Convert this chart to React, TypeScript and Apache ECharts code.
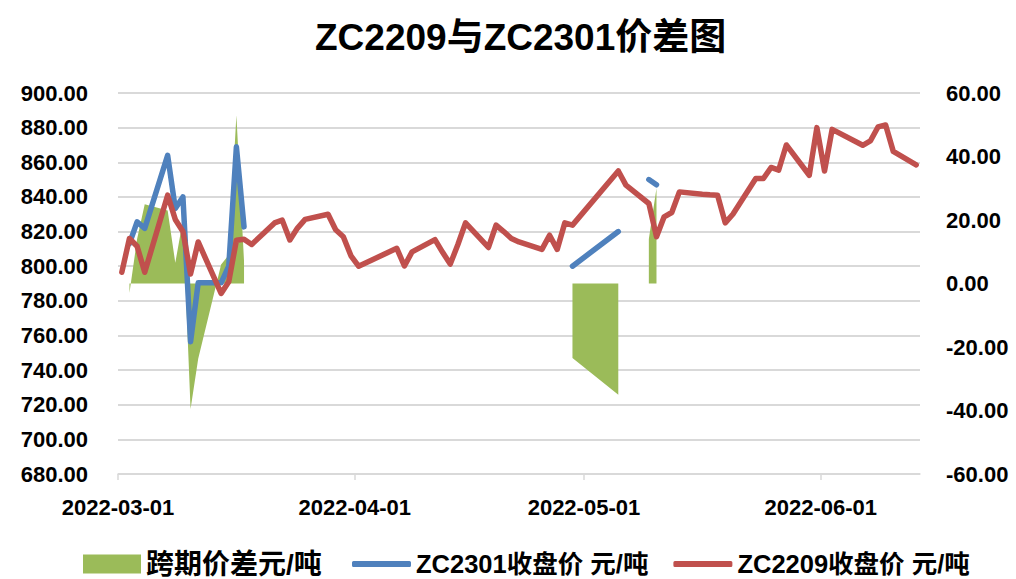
import React, { useEffect, useRef } from "react";
import * as echarts from "echarts";

const dates = [
  "2022-03-01", "2022-03-02", "2022-03-03", "2022-03-04", "2022-03-07", "2022-03-08", "2022-03-09", "2022-03-10", "2022-03-11",
  "2022-03-14", "2022-03-15", "2022-03-16", "2022-03-17", "2022-03-18", "2022-03-21", "2022-03-22", "2022-03-23", "2022-03-24",
  "2022-03-25", "2022-03-28", "2022-03-29", "2022-03-30", "2022-03-31", "2022-04-01", "2022-04-06", "2022-04-07", "2022-04-08",
  "2022-04-11", "2022-04-12", "2022-04-13", "2022-04-14", "2022-04-15", "2022-04-18", "2022-04-19", "2022-04-20", "2022-04-21",
  "2022-04-22", "2022-04-25", "2022-04-26", "2022-04-27", "2022-04-28", "2022-04-29", "2022-05-05", "2022-05-06", "2022-05-09",
  "2022-05-10", "2022-05-11", "2022-05-12", "2022-05-13", "2022-05-16", "2022-05-17", "2022-05-18", "2022-05-19", "2022-05-20",
  "2022-05-23", "2022-05-24", "2022-05-25", "2022-05-26", "2022-05-27", "2022-05-30", "2022-05-31", "2022-06-01", "2022-06-02",
  "2022-06-06", "2022-06-07", "2022-06-08", "2022-06-09", "2022-06-10", "2022-06-13",
];

// ZC2209 close
const zc2209 = [
  796.5, 816, 811.5, 796.5, 841, 827, 820, 795.5, 814,
  784.3, 791, 815, 815.5, 812.5, 825, 826.6, 815.1, 822,
  827, 830, 821, 817, 806, 800, 810.3, 800.1, 808.3,
  815.3, 808, 801.2, 812.5, 825, 810.8, 823.7, 820, 816,
  814, 809.7, 817.9, 809.7, 825, 823.7, 855, 846.8, 836.2,
  817, 828.5, 831, 842.9, 841.5, 841.2, 841, 825, 830,
  850.6, 850.6, 857, 855.5, 870, 852.5, 880, 855, 879,
  869.8, 872.3, 880.4, 881.5, 866.3, 858.5,
];

// ZC2301 close (null = no data)
const zc2301 = [
  null, 813, 825.6, 821.8, 864, 833.3, 840, 756.4, 790.4,
  790.4, 800, 868.9, 822.7, null, null, null, null, null,
  null, null, null, null, null, null, null, null, null,
  null, null, null, null, null, null, null, null, null,
  null, null, null, null, null, 800, 820, null, 850,
  847, null, null, null, null, null, null, null, null,
  null, null, null, null, null, null, null, null, null,
  null, null, null, null, null, null,
];

// 跨期价差 (right axis)
const spread = [
  null, -3, 14, 25, 23, 6.5, 20, -39.5, -23.7,
  6, 9, 53, 7, null, null, null, null, null,
  null, null, null, null, null, null, null, null, null,
  null, null, null, null, null, null, null, null, null,
  null, null, null, null, null, -23.5, -35, null, 14,
  30, null, null, null, null, null, null, null, null,
  null, null, null, null, null, null, null, null, null,
  null, null, null, null, null, null,
];

const axisStart = "2022-03-01";
const axisEnd = "2022-06-14";
const monthLabels = ["2022-03-01", "2022-04-01", "2022-05-01", "2022-06-01"];

const DAY = 86400000;
const dayIndex = (s: string) => (Date.parse(s + "T00:00:00Z") - Date.parse(axisStart + "T00:00:00Z")) / DAY;

const FONT = "'Liberation Sans', 'Noto Sans CJK SC', sans-serif";

export default function App() {
  const ref = useRef<HTMLDivElement>(null);
  useEffect(() => {
    if (!ref.current) return;
    const chart = echarts.init(ref.current, null, { renderer: "svg" });
    const xs = dates.map((d) => dayIndex(d) + 0.5);
    const toPts = (arr: (number | null)[]) => arr.map((v, i) => [xs[i], v == null ? null : v]);
    const tickVals = monthLabels.map(dayIndex);
    const labelMap: Record<string, string> = {};
    monthLabels.forEach((m) => (labelMap[String(dayIndex(m))] = m));

    const lineCommon = {
      type: "line",
      showSymbol: false,
      symbol: "none",
      connectNulls: false,
      smooth: false,
    };

    chart.setOption({
      animation: false,
      backgroundColor: "#ffffff",
      textStyle: { fontFamily: FONT },
      title: {
        text: "ZC2209与ZC2301价差图",
        left: 310,
        top: 14,
        textStyle: { fontSize: 37, fontWeight: "bold", color: "#000", fontFamily: FONT },
      },
      grid: { left: 118, right: 96, top: 93, bottom: 105, containLabel: false },
      legend: [
        {
          data: [{ name: "跨期价差元/吨", icon: "rect" }],
          left: 83,
          top: 550,
          padding: 0,
          itemWidth: 58,
          itemHeight: 19,
          itemGap: 24,
          textStyle: { fontSize: 28, fontWeight: "bold", color: "#000", fontFamily: FONT, lineHeight: 28 },
        },
        {
          data: [
            { name: "ZC2301收盘价 元/吨", icon: "roundRect" },
            { name: "ZC2209收盘价 元/吨", icon: "roundRect" },
          ],
          left: 352,
          top: 551,
          padding: 0,
          itemWidth: 59,
          itemHeight: 6,
          itemGap: 25,
          textStyle: { fontSize: 25.5, fontWeight: "bold", color: "#000", fontFamily: FONT, lineHeight: 26 },
        },
      ],
      xAxis: {
        type: "value",
        min: 0,
        max: dayIndex(axisEnd),
        splitLine: { show: false },
        axisLine: { show: true, onZero: false, lineStyle: { color: "#d9d9d9", width: 1.5 } },
        axisTick: { show: true, customValues: tickVals, length: 6, lineStyle: { color: "#d9d9d9", width: 1.5 } },
        axisLabel: {
          customValues: tickVals,
          formatter: (v: number) => labelMap[String(v)] ?? "",
          fontSize: 22,
          fontWeight: "bold",
          color: "#000",
          margin: 22,
          fontFamily: FONT,
        },
      },
      yAxis: [
        {
          type: "value",
          min: 680,
          max: 900,
          interval: 20,
          axisLine: { show: false },
          axisTick: { show: false },
          splitLine: { show: true, lineStyle: { color: "#d9d9d9", width: 2 } },
          axisLabel: {
            formatter: (v: number) => v.toFixed(2),
            fontSize: 22,
            fontWeight: "bold",
            color: "#000",
            margin: 30,
            fontFamily: FONT,
          },
        },
        {
          type: "value",
          min: -60,
          max: 60,
          interval: 20,
          axisLine: { show: false },
          axisTick: { show: false },
          splitLine: { show: false },
          axisLabel: {
            formatter: (v: number) => v.toFixed(2),
            fontSize: 22,
            fontWeight: "bold",
            color: "#000",
            margin: 26,
            fontFamily: FONT,
          },
        },
      ],
      series: [
        {
          ...lineCommon,
          name: "跨期价差元/吨",
          yAxisIndex: 1,
          data: toPts(spread),
          lineStyle: { width: 0, opacity: 0 },
          itemStyle: { color: "#9BBB59" },
          areaStyle: { color: "#9BBB59", opacity: 1 },
          z: 1,
        },
        {
          ...lineCommon,
          name: "ZC2301收盘价 元/吨",
          yAxisIndex: 0,
          data: toPts(zc2301),
          itemStyle: { color: "#4F81BD" },
          lineStyle: { color: "#4F81BD", width: 5.5, cap: "round", join: "round" },
          z: 2,
        },
        {
          ...lineCommon,
          name: "ZC2209收盘价 元/吨",
          yAxisIndex: 0,
          data: toPts(zc2209),
          itemStyle: { color: "#C0504D" },
          lineStyle: { color: "#C0504D", width: 5.5, cap: "round", join: "round" },
          z: 3,
        },
      ],
    });
    return () => chart.dispose();
  }, []);
  return <div ref={ref} style={{ position: "absolute", left: 0, top: 0, width: 1016, height: 579 }} />;
}
